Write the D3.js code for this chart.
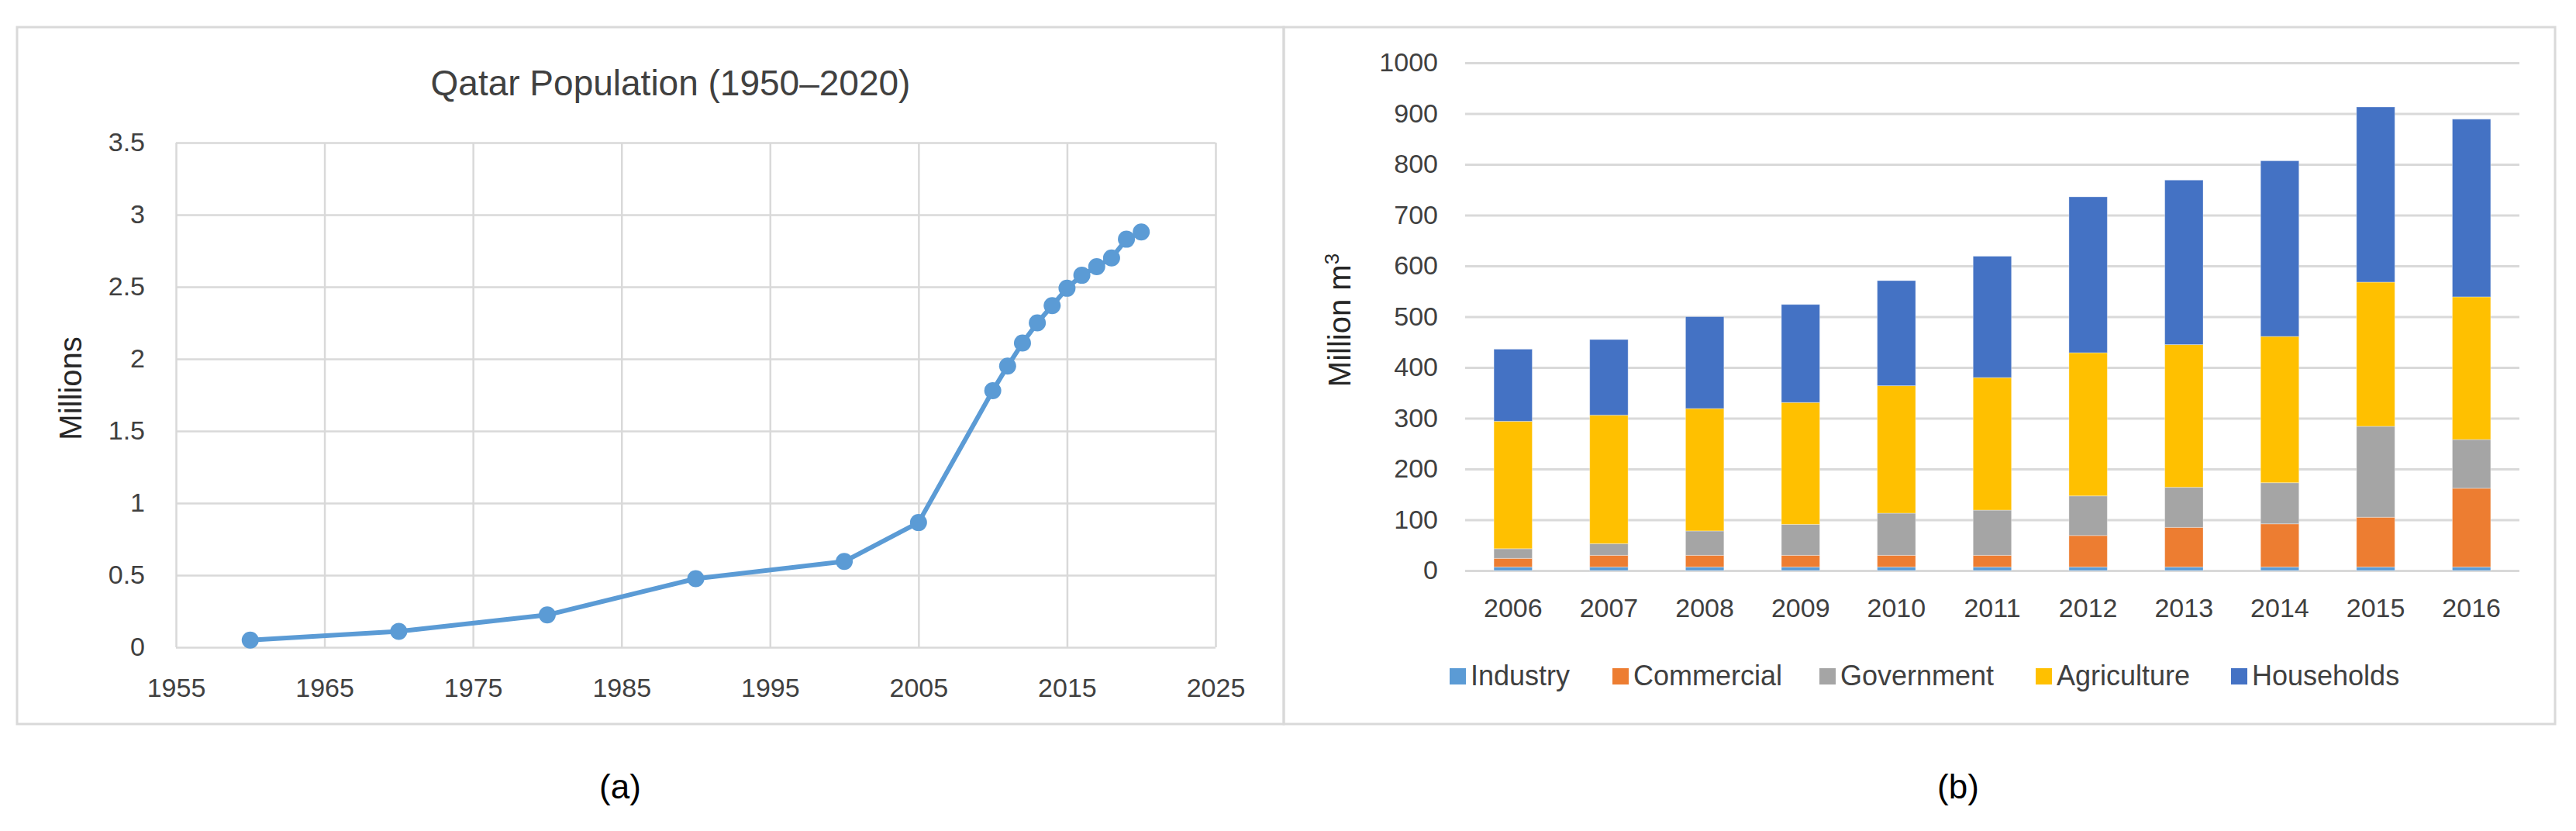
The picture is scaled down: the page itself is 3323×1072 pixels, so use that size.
<!DOCTYPE html>
<html>
<head>
<meta charset="utf-8">
<script src="https://cdn.jsdelivr.net/npm/d3@7"></script>
<style>
  html, body { margin: 0; padding: 0; background: #ffffff; }
  svg { display: block; font-family: "Liberation Sans", Arial, sans-serif; }
</style>
</head>
<body>
<svg id="chart" width="3323" height="1072"></svg>
<script>
// ---------- Data: panel (a) ----------
const popYears = [1960, 1970, 1980, 1990, 2000, 2005, 2010, 2011, 2012, 2013, 2014, 2015, 2016, 2017, 2018, 2019, 2020];
const popMillions = [0.05, 0.11, 0.224, 0.476, 0.595, 0.865, 1.78, 1.95, 2.11, 2.25, 2.37, 2.49, 2.58, 2.64, 2.70, 2.83, 2.88];
const popXTicks = [1955, 1965, 1975, 1985, 1995, 2005, 2015, 2025];
const popYTicks = [0, 0.5, 1, 1.5, 2, 2.5, 3, 3.5];

// ---------- Data: panel (b) ----------
const waterYears = ["2006", "2007", "2008", "2009", "2010", "2011", "2012", "2013", "2014", "2015", "2016"];
const industry    = [7, 7, 7, 7, 7, 7, 7, 7, 7, 7, 7];
const commercial  = [17, 23, 23, 23, 23, 23, 62, 78, 85, 98, 155];
const government  = [19, 23, 48, 61, 83, 89, 78, 79, 81, 179, 96];
const agriculture = [251, 253, 241, 240, 251, 261, 282, 281, 288, 284, 281];
const households  = [142, 149, 181, 193, 207, 239, 307, 324, 346, 345, 350];
const sectorNames = ["Industry", "Commercial", "Government", "Agriculture", "Households"];
const waterYTicks = [0, 100, 200, 300, 400, 500, 600, 700, 800, 900, 1000];

const sectorColors = ["#5B9BD5", "#ED7D31", "#A5A5A5", "#FFC000", "#4472C4"];
const gridColor = "#d9d9d9";
const textColor = "#404040";

const svg = d3.select("#chart");

// ---------- Frames ----------
svg.append("rect").attr("x", 22).attr("y", 35).attr("width", 1634).attr("height", 899)
  .attr("fill", "none").attr("stroke", gridColor).attr("stroke-width", 3);
svg.append("rect").attr("x", 1656).attr("y", 35).attr("width", 1640).attr("height", 899)
  .attr("fill", "none").attr("stroke", gridColor).attr("stroke-width", 3);

// ---------- Panel (a): line chart ----------
const xA = d3.scaleLinear().domain([1955, 2025]).range([227, 1568]);
const yA = d3.scaleLinear().domain([0, 3.5]).range([835, 184]);

const gA = svg.append("g");
// vertical gridlines
gA.append("g").attr("transform", `translate(0,${yA(0)})`)
  .call(d3.axisBottom(xA).tickValues(popXTicks).tickSize(-(yA(0) - yA(3.5))).tickFormat(""))
  .call(g => g.select(".domain").remove())
  .call(g => g.selectAll("line").attr("stroke", gridColor).attr("stroke-width", 2.5));
// horizontal gridlines
gA.append("g").attr("transform", `translate(${xA(1955)},0)`)
  .call(d3.axisLeft(yA).tickValues(popYTicks).tickSize(-(xA(2025) - xA(1955))).tickFormat(""))
  .call(g => g.select(".domain").remove())
  .call(g => g.selectAll("line").attr("stroke", gridColor).attr("stroke-width", 2.5));
// y tick labels
gA.append("g").attr("transform", `translate(${xA(1955)},0)`)
  .call(d3.axisLeft(yA).tickValues(popYTicks).tickSize(0).tickPadding(40).tickFormat(d => d3.format("")(d)))
  .call(g => g.select(".domain").remove())
  .call(g => g.selectAll("text").attr("font-size", 34).attr("fill", textColor)
    .attr("font-family", "Liberation Sans, Arial, sans-serif"));
// x tick labels
gA.append("g").attr("transform", `translate(0,${yA(0)})`)
  .call(d3.axisBottom(xA).tickValues(popXTicks).tickSize(0).tickPadding(40).tickFormat(d3.format("d")))
  .call(g => g.select(".domain").remove())
  .call(g => g.selectAll("text").attr("font-size", 34).attr("fill", textColor)
    .attr("font-family", "Liberation Sans, Arial, sans-serif"));

const popData = popYears.map((y, i) => ({ year: y, value: popMillions[i] }));
gA.append("path").datum(popData)
  .attr("fill", "none").attr("stroke", "#5B9BD5").attr("stroke-width", 6)
  .attr("stroke-linejoin", "round")
  .attr("d", d3.line().x(d => xA(d.year)).y(d => yA(d.value)));
gA.selectAll("circle.pt").data(popData).enter().append("circle")
  .attr("class", "pt")
  .attr("cx", d => xA(d.year)).attr("cy", d => yA(d.value)).attr("r", 11)
  .attr("fill", "#5B9BD5");

// title
svg.append("text").attr("x", 865).attr("y", 123).attr("text-anchor", "middle")
  .attr("font-size", 46).attr("fill", textColor).text("Qatar Population (1950–2020)");
// y axis title
svg.append("text").attr("transform", "translate(105,501) rotate(-90)")
  .attr("text-anchor", "middle").attr("font-size", 40).attr("fill", "#262626").text("Millions");
// panel label
svg.append("text").attr("x", 800).attr("y", 1030).attr("text-anchor", "middle")
  .attr("font-size", 44).attr("fill", "#000").text("(a)");

// ---------- Panel (b): stacked bars ----------
const xB = d3.scaleBand().domain(waterYears).range([1890, 3250]).paddingInner(0.6).paddingOuter(0.3);
const yB = d3.scaleLinear().domain([0, 1000]).range([736, 81]);
const gB = svg.append("g");

gB.append("g").attr("transform", `translate(1890,0)`)
  .call(d3.axisLeft(yB).tickValues(waterYTicks).tickSize(-(3250 - 1890)).tickFormat(""))
  .call(g => g.select(".domain").remove())
  .call(g => g.selectAll("line").attr("stroke", gridColor).attr("stroke-width", 3));
gB.append("g").attr("transform", `translate(1890,0)`)
  .call(d3.axisLeft(yB).tickValues(waterYTicks).tickSize(0).tickPadding(35).tickFormat(d3.format("d")))
  .call(g => g.select(".domain").remove())
  .call(g => g.selectAll("text").attr("font-size", 34).attr("fill", textColor)
    .attr("font-family", "Liberation Sans, Arial, sans-serif"));
gB.append("g").attr("transform", `translate(0,${yB(0)})`)
  .call(d3.axisBottom(xB).tickSize(0).tickPadding(36))
  .call(g => g.select(".domain").remove())
  .call(g => g.selectAll("text").attr("font-size", 34).attr("fill", textColor)
    .attr("font-family", "Liberation Sans, Arial, sans-serif"));

const seriesArrays = [industry, commercial, government, agriculture, households];
const rows = waterYears.map((yr, i) => {
  const r = { year: yr };
  sectorNames.forEach((s, k) => { r[s] = seriesArrays[k][i]; });
  return r;
});
const stacked = d3.stack().keys(sectorNames)(rows);
gB.selectAll("g.layer").data(stacked).enter().append("g")
  .attr("class", "layer").attr("fill", (d, i) => sectorColors[i])
  .selectAll("rect").data(d => d).enter().append("rect")
  .attr("x", d => xB(d.data.year)).attr("width", xB.bandwidth())
  .attr("y", d => yB(d[1])).attr("height", d => yB(d[0]) - yB(d[1]))
  .attr("stroke", "rgba(255,255,255,0.35)").attr("stroke-width", 1);

// y axis title
const yt = svg.append("text").attr("transform", "translate(1742,413) rotate(-90)")
  .attr("text-anchor", "middle").attr("font-size", 40).attr("fill", "#262626");
yt.append("tspan").text("Million m");
yt.append("tspan").attr("baseline-shift", "super").attr("font-size", 26).text("3");

// legend
const legendX = [1870, 2080, 2347, 2626, 2878];
const leg = svg.append("g");
sectorNames.forEach((s, i) => {
  leg.append("rect").attr("x", legendX[i]).attr("y", 862).attr("width", 21).attr("height", 21)
    .attr("fill", sectorColors[i]);
  leg.append("text").attr("x", legendX[i] + 27).attr("y", 884).attr("font-size", 36)
    .attr("fill", textColor).text(s);
});

svg.append("text").attr("x", 2526).attr("y", 1030).attr("text-anchor", "middle")
  .attr("font-size", 44).attr("fill", "#000").text("(b)");
</script>
</body>
</html>
